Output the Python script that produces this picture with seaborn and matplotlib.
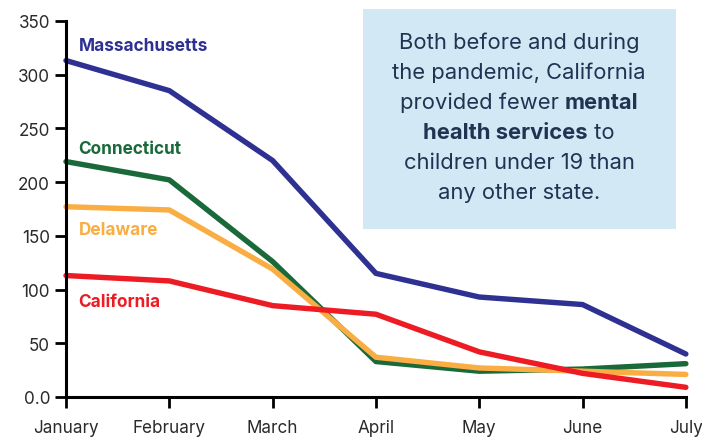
import pandas as pd
import matplotlib.pyplot as plt
import seaborn as sns
from matplotlib.patches import Rectangle

# --- data ---
months = ['January', 'February', 'March', 'April', 'May', 'June', 'July']
massachusetts = [313, 285, 220, 115, 93, 86, 40]
connecticut = [219, 202, 126, 33, 24, 26, 31]
delaware = [177, 174, 119, 37, 27, 24, 21]
california = [113, 108, 85, 77, 42, 22, 9]
y_ticks = [0, 50, 100, 150, 200, 250, 300, 350]
y_tick_labels = ['0.0', '50', '100', '150', '200', '250', '300', '350']

states = ['Massachusetts', 'Connecticut', 'Delaware', 'California']
colors = {'Massachusetts': '#2e3192', 'Connecticut': '#19693a',
          'Delaware': '#f9ad42', 'California': '#ed1c24'}
label_y = {'Massachusetts': 327, 'Connecticut': 231,
           'Delaware': 156, 'California': 89}

rows = []
for name, vals in zip(states, [massachusetts, connecticut, delaware, california]):
    for i, v in enumerate(vals):
        rows.append({'month_idx': i, 'value': v, 'state': name})
df = pd.DataFrame(rows)

sns.set_style('ticks')
plt.rcParams['font.family'] = ['Inter', 'DejaVu Sans']

fig = plt.figure(figsize=(7.02, 4.39), dpi=100)
ax = fig.add_axes([0.094, 0.0934, 0.883, 0.857])

sns.lineplot(data=df, x='month_idx', y='value', hue='state', hue_order=states,
             palette=colors, linewidth=3.9, legend=False, ax=ax,
             solid_capstyle='round', solid_joinstyle='round')

ax.set_xlim(0, len(months) - 1)
ax.set_ylim(0, 350)
ax.set_xticks(range(len(months)))
ax.set_xticklabels(months)
ax.set_yticks(y_ticks)
ax.set_yticklabels(y_tick_labels)
ax.set_xlabel('')
ax.set_ylabel('')
for s in ['top', 'right']:
    ax.spines[s].set_visible(False)
for s in ['left', 'bottom']:
    ax.spines[s].set_linewidth(2.2)
    ax.spines[s].set_color('black')
ax.tick_params(axis='both', length=8, width=2, color='black',
               labelsize=12.3, labelcolor='#2a2a2a')
ax.tick_params(axis='x', pad=7.5)
for lbl in ax.get_xticklabels() + ax.get_yticklabels():
    lbl.set_clip_on(False)
for line in ax.lines:
    line.set_clip_on(False)

# state labels
for name in states:
    ax.text(0.12, label_y[name], name, color=colors[name], fontsize=12.4,
            fontweight='bold', va='center', ha='left')

# annotation box
fig.patches.append(Rectangle((363 / 702, 1 - 230 / 439), 313 / 702, 220 / 439,
                             transform=fig.transFigure, facecolor='#d2e8f4',
                             edgecolor='none', zorder=0))

text_color = '#1e3452'
box_lines = [
    [('Both before and during', 'normal')],
    [('the pandemic, California', 'normal')],
    [('provided fewer ', 'normal'), ('mental', 'bold')],
    [('health services', 'bold'), (' to', 'normal')],
    [('children under 19 than', 'normal')],
    [('any other state.', 'normal')],
]
line_y = [43, 73, 103, 133, 163, 193]
cx = 519

fig.canvas.draw()
renderer = fig.canvas.get_renderer()
for parts, ypix in zip(box_lines, line_y):
    texts = []
    for s, w in parts:
        t = fig.text(0, 1 - ypix / 439, s, fontsize=15.8, fontweight=w,
                     color=text_color, va='center', ha='left')
        texts.append(t)
    widths = [t.get_window_extent(renderer).width for t in texts]
    x = cx - sum(widths) / 2
    for t, wd in zip(texts, widths):
        t.set_x(x / 702)
        x += wd

fig.savefig('out.png', dpi=100)
